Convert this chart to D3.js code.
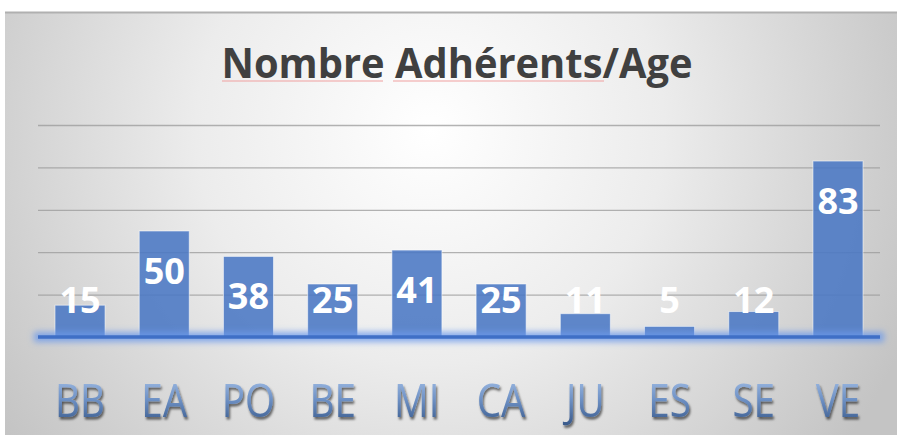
<!DOCTYPE html>
<html><head><meta charset="utf-8">
<script src="https://cdn.jsdelivr.net/npm/d3@7"></script>
<style>body{margin:0;background:#fff}svg{display:block}</style>
</head><body>
<script>
const categories = ["BB","EA","PO","BE","MI","CA","JU","ES","SE","VE"];
const values = [15,50,38,25,41,25,11,5,12,83];
const gridTicks = [20,40,60,80,100];
const title = "Nombre Adhérents/Age";

const W = 900, H = 435;
const svg = d3.select("body").append("svg").attr("width", W).attr("height", H);
const defs = svg.append("defs");

const bg = defs.append("radialGradient").attr("id","bg")
  .attr("gradientUnits","userSpaceOnUse").attr("cx",430).attr("cy",130).attr("r",520);
bg.append("stop").attr("offset","0").attr("stop-color","#ffffff");
bg.append("stop").attr("offset","0.45").attr("stop-color","#ececec");
bg.append("stop").attr("offset","1").attr("stop-color","#c4c4c4");

const tg = defs.append("linearGradient").attr("id","tg").attr("x1",0).attr("y1",0).attr("x2",0).attr("y2",1);
tg.append("stop").attr("offset","0").attr("stop-color","#b4cdf0");
tg.append("stop").attr("offset","0.5").attr("stop-color","#6f92c6");
tg.append("stop").attr("offset","1").attr("stop-color","#2f4f80");

const sh = defs.append("filter").attr("id","sh").attr("x","-20%").attr("y","-20%").attr("width","140%").attr("height","150%");
sh.append("feDropShadow").attr("dx",1.5).attr("dy",2.5).attr("stdDeviation",1.2).attr("flood-color","#000").attr("flood-opacity",0.6);

const glow = defs.append("filter").attr("id","glow").attr("filterUnits","userSpaceOnUse")
  .attr("x",0).attr("y",300).attr("width",900).attr("height",80);
glow.append("feGaussianBlur").attr("stdDeviation",3);

// background frame
svg.append("rect").attr("x",5).attr("y",12).attr("width",892).attr("height",430).attr("fill","url(#bg)");
svg.append("line").attr("x1",5).attr("x2",897).attr("y1",12.5).attr("y2",12.5).attr("stroke","#b0b0b0").attr("stroke-width",2);

// title
svg.append("text").attr("x",457).attr("y",78).attr("text-anchor","middle")
  .attr("font-family","'Open Sans', sans-serif").attr("font-weight","bold").attr("font-size",42)
  .attr("fill","#404040").attr("textLength",471).attr("lengthAdjust","spacingAndGlyphs").text(title);
svg.append("line").attr("x1",222).attr("x2",383).attr("y1",81).attr("y2",81).attr("stroke","#f0a0a0").attr("stroke-width",1.2);
svg.append("line").attr("x1",393).attr("x2",604).attr("y1",81).attr("y2",81).attr("stroke","#f0a0a0").attr("stroke-width",1.2);

const x = d3.scaleBand().domain(categories).range([38,880]).paddingInner(0.406).paddingOuter(0.202);
const y = d3.scaleLinear().domain([0,100]).range([337,125]);

// gridlines
svg.append("g").attr("transform","translate(38,0)")
  .call(d3.axisLeft(y).tickValues(gridTicks).tickSize(-842).tickFormat(""))
  .call(g => g.select(".domain").remove())
  .call(g => g.selectAll("line").attr("stroke","#9a9a9a").attr("stroke-opacity",0.75).attr("stroke-width",1.3));

// bars
svg.append("g").selectAll("rect").data(values).join("rect")
  .attr("x",(d,i)=>x(categories[i])).attr("width",x.bandwidth())
  .attr("y",d=>y(d)).attr("height",d=>y(0)-y(d))
  .attr("fill","#4a77c4").attr("fill-opacity",0.88)
  .attr("stroke","#ffffff").attr("stroke-opacity",0.55).attr("stroke-width",1);

// axis baseline with glow
svg.append("line").attr("x1",34).attr("x2",884).attr("y1",y(0)).attr("y2",y(0))
  .attr("stroke","#6a98ec").attr("stroke-width",10).attr("stroke-opacity",0.8).attr("filter","url(#glow)");
const xa = svg.append("g").attr("transform",`translate(0,${y(0)})`)
  .call(d3.axisBottom(x).tickSize(0).tickPadding(47));
xa.select(".domain").attr("stroke","#3f6fc6").attr("stroke-width",3.5).attr("d","M38,0H880");
xa.selectAll("text")
  .attr("font-family","'Open Sans', sans-serif").attr("font-size",46)
  .attr("fill","url(#tg)").attr("filter","url(#sh)")
  .attr("transform","scale(0.84,1)");

// data labels
svg.append("g").selectAll("text").data(values).join("text")
  .attr("x",(d,i)=>x(categories[i])+x.bandwidth()/2)
  .attr("y",d=>Math.min(y(d)+40, y(17.5))+13)
  .attr("text-anchor","middle")
  .attr("font-family","'Open Sans', sans-serif").attr("font-weight","bold").attr("font-size",36)
  .attr("fill","#ffffff").text(d=>d);
</script>
</body></html>
